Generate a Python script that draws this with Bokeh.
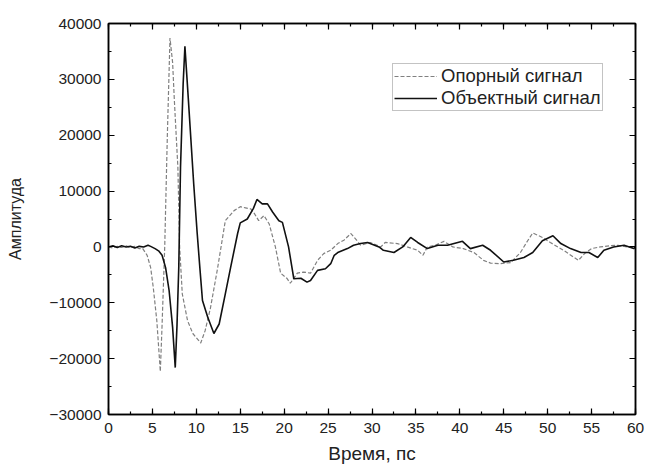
from bokeh.plotting import figure
from bokeh.models import (Range1d, LinearAxis, SingleIntervalTicker, Legend, LegendItem,
                          CustomJSTickFormatter)
from bokeh.embed import file_html
from bokeh.resources import INLINE

# Reference signal (dashed)
ref_t = [0, 0.5, 1, 1.5, 2, 2.5, 3, 3.5, 3.9, 4.4, 4.8, 5.1, 5.5, 5.9, 6.1, 6.4, 6.7, 7.0, 7.3,
         7.5, 7.9, 8.1, 8.4, 9.0, 9.6, 10.5, 11.0, 11.6, 12.4, 13.3, 14.3, 15.0, 15.6, 16.2,
         16.6, 17.1, 17.7, 18.3, 19.0, 19.6, 20.3, 20.7, 21.5, 22.2, 23.0, 23.8, 24.5, 25.3,
         26.1, 26.8, 27.6, 28.3, 28.7, 29.8, 31.0, 31.5, 32.9, 34.0, 35.2, 35.8, 36.3, 37.2,
         38.2, 39.2, 40.4, 41.6, 42.7, 43.5, 44.6, 45.8, 46.9, 47.6, 48.3, 49.4, 50.3, 51.8,
         53.5, 54.2, 55.0, 56, 57, 58, 59, 60]
ref_a = [0, -200, 100, -100, 200, -100, 100, -300, -300, -1500, -3700, -7300, -13200, -22300,
         -14000, 0, 20000, 37400, 33000, 26200, 14200, 0, -8400, -13200, -15500, -17200,
         -15000, -11000, -4000, 4700, 6500, 7200, 7000, 6800, 6000, 4700, 5600, 4100, 0,
         -4700, -5600, -6500, -4700, -4500, -4700, -2400, -1200, -600, 600, 1200, 2400, 1100,
         300, 800, 0, 800, 600, 0, -600, -1500, 0, 300, 1000, 0, -300, -1000, -2400, -2900,
         -3000, -2800, -1000, 800, 2500, 1700, 800, -600, -2400, -1200, -300, 0, 200, 300, 0, -200]

# Object signal (solid)
obj_t = [0, 0.5, 1, 1.5, 2, 2.5, 3, 3.5, 4, 4.5, 4.8, 5.3, 5.7, 6.1, 6.5, 6.9, 7.3, 7.6, 7.8,
         8.0, 8.2, 8.5, 8.7, 9.1, 9.7, 10.1, 10.4, 10.7, 11.3, 12.0, 12.6, 13.3, 13.9, 14.7,
         15.0, 15.8, 16.5, 16.9, 17.5, 18.1, 18.7, 19.4, 19.8, 20.5, 21.1, 21.9, 22.6, 23.0,
         23.8, 24.7, 25.3, 25.7, 26.1, 27.2, 27.9, 28.7, 29.5, 30.8, 31.3, 32.5, 33.5, 34.4,
         35.2, 36.3, 37.5, 38.6, 40.3, 41.2, 42.6, 43.5, 45.0, 46.1, 47.3, 48.3, 49.4, 50.6,
         51.5, 52.6, 53.8, 54.7, 55.7, 56.4, 57.5, 58.7, 59.8, 60]
obj_a = [0, 200, -100, 200, 0, 100, -200, 100, 0, 300, 100, -300, -700, -1500, -3700, -7800,
         -14400, -21600, -14000, -3700, 14300, 29200, 35900, 26200, 11300, 2400, -3700, -9600,
         -12600, -15500, -13800, -8400, -3700, 2400, 4300, 5000, 6900, 8500, 7700, 7700, 6200,
         4700, 4400, 0, -5700, -5600, -6300, -6000, -4200, -3900, -3000, -1500, -1000, -300,
         300, 600, 800, 0, -600, -1000, 0, 1700, 800, -300, 300, 300, 1000, -300, 300, -600,
         -2700, -2400, -1900, -1000, 1100, 2000, 600, -300, -1000, -1000, -1900, -600, 0, 300,
         -300, 0]

legend_labels = ["Опорный сигнал", "Объектный сигнал"]
x_label = "Время, пс"
y_label = "Амплитуда"

FONT = "Liberation Sans"

p = figure(width=646, height=466, output_backend="svg", toolbar_location=None,
           x_range=Range1d(0, 60), y_range=Range1d(-30000, 40000),
           min_border_left=108, min_border_right=11, min_border_top=23, min_border_bottom=52,
           x_axis_location=None, y_axis_location=None)
p.grid.visible = False
p.outline_line_color = "black"
p.outline_line_width = 1.5
p.background_fill_color = "white"
p.border_fill_color = "white"

def style_axis(ax):
    ax.axis_line_color = "black"
    ax.axis_line_width = 1.5
    ax.major_tick_in = 6
    ax.major_tick_out = 0
    ax.minor_tick_in = 3
    ax.minor_tick_out = 0
    ax.major_tick_line_width = 1.2
    ax.minor_tick_line_width = 1.2
    ax.major_label_text_font = FONT
    ax.major_label_text_font_size = "15.5px"
    ax.major_label_text_color = "#222222"
    ax.axis_label_text_font = FONT
    ax.axis_label_text_font_style = "normal"
    ax.axis_label_text_color = "#222222"

xb = LinearAxis(ticker=SingleIntervalTicker(interval=5, num_minor_ticks=2), axis_label=x_label)
style_axis(xb)
xb.axis_label_text_font_size = "19px"
xb.major_label_standoff = 8
xb.axis_label_standoff = 7
p.add_layout(xb, "below")

yl = LinearAxis(ticker=SingleIntervalTicker(interval=10000, num_minor_ticks=2), axis_label=y_label)
style_axis(yl)
yl.axis_label_text_font_size = "16px"
yl.major_label_standoff = 7
yl.axis_label_standoff = 22
p.add_layout(yl, "left")

blank = CustomJSTickFormatter(code="return ''")

xa = LinearAxis(ticker=SingleIntervalTicker(interval=5, num_minor_ticks=2), formatter=blank)
style_axis(xa)
xa.major_label_standoff = 0
p.add_layout(xa, "above")

yr = LinearAxis(ticker=SingleIntervalTicker(interval=10000, num_minor_ticks=2), formatter=blank)
style_axis(yr)
yr.major_label_standoff = 0
p.add_layout(yr, "right")

r_ref = p.line(ref_t, ref_a, line_color="#808080", line_width=1.2, line_dash="4 2")
r_obj = p.line(obj_t, obj_a, line_color="#111111", line_width=1.6)

legend = Legend(items=[LegendItem(label=legend_labels[0], renderers=[r_ref]),
                       LegendItem(label=legend_labels[1], renderers=[r_obj])],
                location=(284, 303))
legend.label_text_font = FONT
legend.label_text_font_size = "18.5px"
legend.label_text_color = "#222222"
legend.border_line_color = "#888888"
legend.border_line_width = 1
legend.glyph_width = 43
legend.glyph_height = 22
legend.label_height = 22
legend.label_standoff = 4
legend.spacing = 0
legend.padding = 1
legend.margin = 0
legend.background_fill_alpha = 1
p.add_layout(legend, "center")

open("out.html", "w").write(file_html(p, INLINE))
